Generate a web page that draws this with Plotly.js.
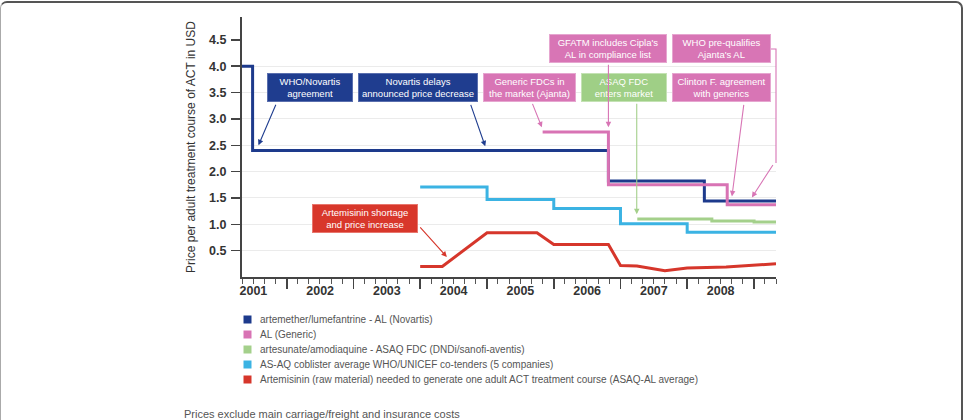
<!DOCTYPE html>
<html>
<head>
<meta charset="utf-8">
<script src="https://cdn.plot.ly/plotly-3.0.1.min.js"></script>
<style>
  html, body { margin: 0; padding: 0; background: #fff; }
  #wrap { position: relative; width: 965px; height: 420px; overflow: hidden; }
  #chart { width: 965px; height: 420px; }
  #frame { position: absolute; left: 0px; top: 1px; width: 960px; height: 430px;
           border-top: 2px solid #555; border-right: 2px solid #555; border-left: 1px solid #aaa;
           border-radius: 7px 7px 0 0; pointer-events: none; }
</style>
</head>
<body>
<div id="wrap">
  <div id="chart"></div>
  <div id="frame"></div>
</div>
<script>
// ---------------- DATA ----------------
const seriesNames = [
  'artemether/lumefantrine - AL (Novartis)',
  'AL (Generic)',
  'artesunate/amodiaquine - ASAQ FDC (DNDi/sanofi-aventis)',
  'AS-AQ coblister average WHO/UNICEF co-tenders (5 companies)',
  'Artemisinin (raw material) needed to generate one adult ACT treatment course (ASAQ-AL average)'
];
const seriesColors = ['#1d3a8c', '#d873b4', '#a4d08b', '#3bb3e3', '#d6362b'];

const novartisX = ['2001-05-01', '2001-06-28', '2006-10-27', '2008-04-04', '2009-05-01'];
const novartisY = [4.00, 2.40, 1.82, 1.44, 1.44];

const genericX = ['2005-11-01', '2006-10-27', '2008-08-07', '2009-05-01'];
const genericY = [2.75, 1.75, 1.37, 1.37];

const asaqX = ['2007-04-03', '2008-05-15', '2009-01-01', '2009-05-01'];
const asaqY = [1.10, 1.065, 1.045, 1.045];

const coblisterX = ['2004-01-01', '2005-01-01', '2006-01-01', '2007-01-01', '2008-01-01', '2009-05-01'];
const coblisterY = [1.71, 1.47, 1.30, 1.01, 0.85, 0.85];

const artemisininX = ['2004-01-01', '2004-05-01', '2005-01-01', '2005-10-01', '2006-01-01', '2006-10-27',
                      '2007-01-01', '2007-04-01', '2007-09-01', '2008-01-01', '2008-08-01', '2009-05-01'];
const artemisininY = [0.20, 0.20, 0.84, 0.84, 0.615, 0.615, 0.22, 0.21, 0.12, 0.17, 0.19, 0.25];

const yTickVals = [0.5, 1.0, 1.5, 2.0, 2.5, 3.0, 3.5, 4.0, 4.5];
const yGridVals = [0.5, 1.0, 1.5, 2.0, 2.5, 3.0, 3.5, 4.0];

const calloutTexts = [
  'WHO/Novartis<br>agreement',
  'Novartis delays<br>announced price decrease',
  'Generic FDCs in<br>the market (Ajanta)',
  'GFATM includes Cipla\'s<br>AL in compliance list',
  'ASAQ FDC<br>enters market',
  'WHO pre-qualifies<br>Ajanta\'s AL',
  'Clinton F. agreement<br>with generics',
  'Artemisinin shortage<br>and price increase'
];
const footnote = 'Prices exclude main carriage/freight and insurance costs';
const yTitle = 'Price per adult treatment course of ACT in USD';

// ---------------- LAYOUT HELPERS ----------------
const W = 965, H = 420;
const M = { l: 242, r: 189, t: 17, b: 143 };
const PW = W - M.l - M.r, PH = H - M.t - M.b;
const px = x => (x - M.l) / PW;
const py = y => (H - M.b - y) / PH;

const boxFill = ['#1f3d8f', '#1f3d8f', '#d875b5', '#d875b5', '#9fcf86', '#d875b5', '#d875b5', '#d8372b'];
const boxLine = ['#5a6fae', '#5a6fae', '#e6a6d0', '#e6a6d0', '#c4e2b4', '#e6a6d0', '#e6a6d0', '#e8766d'];
// box geometry in pixels: [left, top, right, bottom]
const boxGeom = [
  [267, 73, 353, 102],
  [358, 73, 478, 102],
  [483, 73, 576, 102],
  [549, 34, 667, 63],
  [581, 73, 667, 102],
  [672, 34, 771, 63],
  [672, 73, 771, 102],
  [312, 204, 418, 233]
];
// arrows: head in data coords, tail offset in px
const arrows = [
  { x: '2001-07-30', y: 2.50, ax: 18, ay: -42, c: '#1f3d8f' },
  { x: '2004-12-22', y: 2.48, ax: -15, ay: -43, c: '#1f3d8f' },
  { x: '2005-10-28', y: 2.84, ax: -10, ay: -25, c: '#d875b5' },
  { x: '2006-10-27', y: 2.84, ax: 0, ay: -64, c: '#d875b5' },
  { x: '2007-03-31', y: 1.19, ax: 0, ay: -112, c: '#a4d08b' },
  { x: '2008-12-20', y: 1.51, ax: 22, ay: -34, c: '#d875b5' },
  { x: '2008-09-02', y: 1.53, ax: 12, ay: -93, c: '#d875b5' },
  { x: '2004-05-26', y: 0.38, ax: -28, ay: -31, c: '#d6362b' }
];

// ---------------- TRACES ----------------
function lineTrace(x, y, i, shape) {
  return { type: 'scatter', mode: 'lines', x: x, y: y, name: seriesNames[i],
           line: { color: seriesColors[i], width: 3, shape: shape },
           showlegend: false, hoverinfo: 'skip' };
}
const data = [
  lineTrace(coblisterX, coblisterY, 3, 'hv'),
  lineTrace(asaqX, asaqY, 2, 'hv'),
  lineTrace(novartisX, novartisY, 0, 'hv'),
  lineTrace(genericX, genericY, 1, 'hv'),
  lineTrace(artemisininX, artemisininY, 4, 'linear')
];

// ---------------- ANNOTATIONS ----------------
const annotations = [];
calloutTexts.forEach((t, i) => {
  const g = boxGeom[i];
  annotations.push({
    text: t, xref: 'paper', yref: 'paper',
    x: px((g[0] + g[2]) / 2), y: py((g[1] + g[3]) / 2),
    xanchor: 'center', yanchor: 'middle', showarrow: false,
    width: g[2] - g[0] - 4, height: g[3] - g[1] - 4,
    bgcolor: boxFill[i], bordercolor: boxLine[i], borderwidth: 1, borderpad: 1,
    font: { family: 'Liberation Sans, Arial, sans-serif', size: 9.5, color: '#ffffff' },
    align: 'center', valign: 'middle'
  });
});
arrows.forEach(a => {
  annotations.push({
    text: '', x: a.x, y: a.y, xref: 'x', yref: 'y', ax: a.ax, ay: a.ay,
    showarrow: true, arrowhead: 2, arrowsize: 1, arrowwidth: 1.1, arrowcolor: a.c,
    standoff: 0, startstandoff: 0
  });
});
// legend (manual, to match tight row spacing)
const legendRows = [319.5, 334.5, 349.5, 364.5, 379.5];
const shapes = [];
seriesNames.forEach((n, i) => {
  annotations.push({
    text: n, xref: 'paper', yref: 'paper', x: px(258), y: py(legendRows[i]),
    xanchor: 'left', yanchor: 'middle', showarrow: false,
    font: { family: 'Liberation Sans, Arial, sans-serif', size: 10, color: '#555' }
  });
  shapes.push({
    type: 'rect', xref: 'paper', yref: 'paper',
    x0: px(243.5), x1: px(251.5), y0: py(legendRows[i] - 4), y1: py(legendRows[i] + 4),
    fillcolor: seriesColors[i], line: { width: 0 }
  });
});
annotations.push({
  text: footnote, xref: 'paper', yref: 'paper', x: px(182), y: py(414),
  xanchor: 'left', yanchor: 'middle', showarrow: false,
  font: { family: 'Liberation Sans, Arial, sans-serif', size: 11, color: '#555' }
});
// bent connector for "WHO pre-qualifies Ajanta's AL"
shapes.push({
  type: 'path', xref: 'paper', yref: 'paper',
  path: 'M ' + px(771) + ',' + py(49) + ' L ' + px(776) + ',' + py(49) + ' L ' + px(776) + ',' + py(163),
  line: { color: '#d875b5', width: 1.1 }
});

const layout = {
  width: W, height: H,
  margin: M,
  paper_bgcolor: '#ffffff', plot_bgcolor: '#ffffff',
  font: { family: 'Liberation Sans, Arial, sans-serif', color: '#333' },
  showlegend: false,
  xaxis: {
    type: 'date', range: ['2001-05-01', '2009-05-01'],
    tick0: '2001-01-01', dtick: 'M12', tickformat: '%Y', ticklabelmode: 'period',
    ticks: 'outside', ticklen: 10, tickwidth: 1.5, tickcolor: '#444',
    ticklabelstandoff: -9,
    minor: { dtick: 'M2', ticks: 'outside', ticklen: 5, tickwidth: 1, tickcolor: '#555', showgrid: false },
    showline: true, linecolor: '#444', linewidth: 2,
    showgrid: false, zeroline: false,
    tickfont: { size: 12.5, color: '#333', weight: 'bold' }
  },
  yaxis: {
    range: [0, 4.934], tickvals: yTickVals, tickformat: '.1f',
    ticks: 'outside', ticklen: 9, tickwidth: 1.5, tickcolor: '#444',
    showline: true, linecolor: '#444', linewidth: 2,
    showgrid: false, zeroline: false, ticklabelstandoff: 2,
    minor: { tickvals: yGridVals, ticks: '', showgrid: true, gridcolor: '#ebebeb', gridwidth: 1 },
    tickfont: { size: 12.5, color: '#333', weight: 'bold' },
    title: { text: yTitle, font: { size: 12, color: '#333' }, standoff: 11 }
  },
  annotations: annotations,
  shapes: shapes
};

Plotly.newPlot('chart', data, layout, { displayModeBar: false, staticPlot: true });
</script>
</body>
</html>
